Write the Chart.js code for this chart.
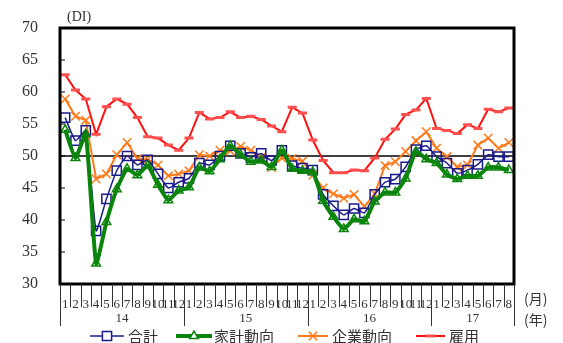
<!DOCTYPE html>
<html>
<head>
<meta charset="utf-8">
<script src="https://cdn.jsdelivr.net/npm/chart.js@4.4.0/dist/chart.umd.min.js"></script>
<style>
body { margin: 0; background: #fff; }
</style>
</head>
<body>
<canvas id="chartjs-0" width="563" height="343"></canvas>
<script>
// month tick labels (14/1 .. 17/8)
const months = ["1","2","3","4","5","6","7","8","9","10","11","12",
                "1","2","3","4","5","6","7","8","9","10","11","12",
                "1","2","3","4","5","6","7","8","9","10","11","12",
                "1","2","3","4","5","6","7","8"];
const years = ["14", "15", "16", "17"];
const yearLengths = [12, 12, 12, 8];

// DI values
const total = [56.0, 52.4, 54.0, 38.3, 43.3, 47.7, 50.0, 48.6, 49.4, 47.2, 45.0, 45.9,
               46.5, 48.9, 48.6, 50.0, 51.6, 50.4, 49.8, 50.4, 49.3, 50.9, 48.5, 48.1,
               47.8, 44.0, 42.2, 40.8, 41.8, 41.1, 44.0, 45.9, 46.4, 48.3, 51.0, 51.6,
               49.9, 48.9, 47.3, 47.8, 48.7, 50.2, 49.9, 49.9];
const household = [54.1, 49.7, 53.4, 33.2, 39.7, 44.8, 48.0, 47.0, 48.5, 45.5, 43.1, 44.6,
                   45.1, 48.2, 47.6, 49.5, 51.6, 50.2, 49.1, 49.3, 48.3, 50.9, 48.0, 47.7,
                   47.5, 43.0, 40.5, 38.6, 40.1, 39.8, 42.9, 44.3, 44.3, 46.5, 50.7, 49.5,
                   48.9, 47.1, 46.4, 46.9, 46.9, 48.2, 48.2, 47.8];
const corporate = [58.9, 56.2, 55.6, 46.4, 47.2, 50.2, 52.1, 49.6, 49.5, 48.6, 46.9, 47.2,
                   47.7, 50.2, 50.0, 50.9, 50.8, 51.5, 50.9, 49.8, 48.2, 49.7, 49.6, 49.2,
                   47.0, 45.0, 44.1, 43.4, 44.0, 42.1, 44.1, 48.5, 49.1, 50.7, 52.4, 53.8,
                   51.2, 49.9, 48.3, 48.6, 51.7, 52.8, 51.2, 52.1];
const employment = [62.7, 60.3, 58.9, 53.4, 57.7, 58.9, 58.1, 56.0, 53.0, 52.8, 51.7, 50.9,
                    52.8, 56.8, 55.8, 56.0, 56.9, 56.0, 56.2, 55.7, 54.7, 53.8, 57.6, 56.7,
                    52.5, 49.3, 47.4, 47.4, 47.8, 47.7, 49.7, 52.6, 54.2, 56.5, 57.2, 59.0,
                    54.3, 54.0, 53.5, 54.9, 54.3, 57.3, 56.9, 57.5];

const serif = "'Liberation Serif', 'DejaVu Serif', serif";
const jp = "'Noto Sans CJK JP', sans-serif";

// legend line positions
const legendPos = [[90, 124, 128], [176, 212, 214], [298, 328, 332], [416, 445, 449]];

const framePlugin = {
    id: "frame",
    beforeDatasetsDraw(chart) {
        let ctx = chart.ctx;
        let a = chart.chartArea;
        let y50 = chart.scales.y.getPixelForValue(50);
        ctx.save();
        ctx.strokeStyle = "#000";
        ctx.lineWidth = 1.5;
        ctx.beginPath();
        ctx.moveTo(a.left, y50);
        ctx.lineTo(a.right, y50);
        ctx.stroke();
        ctx.restore();
    },
    afterDraw(chart) {
        let ctx = chart.ctx;
        let a = chart.chartArea;
        let xs = chart.scales.x;
        let ys = chart.scales.y;
        ctx.save();

        // frame
        ctx.strokeStyle = "#000";
        ctx.lineWidth = 3;
        ctx.strokeRect(a.left, a.top, a.right - a.left, a.bottom - a.top);

        // small inner ticks on y axis
        ctx.lineWidth = 1;
        ys.ticks.forEach(function (t) {
            let y = ys.getPixelForValue(t.value);
            ctx.beginPath();
            ctx.moveTo(a.left, y);
            ctx.lineTo(a.left + 5, y);
            ctx.stroke();
        });

        // month separators and year separators
        let half = (xs.getPixelForValue(1) - xs.getPixelForValue(0)) / 2;
        ctx.strokeStyle = "#333";
        ctx.lineWidth = 1;
        let idx = 0;
        let yearStarts = [0];
        yearLengths.forEach(function (n) { idx += n; yearStarts.push(idx); });
        for (let i = 0; i <= months.length; i++) {
            let x = Math.round(xs.getPixelForValue(i) - half) + 0.5;
            let long = yearStarts.indexOf(i) >= 0;
            ctx.beginPath();
            ctx.moveTo(x, a.bottom);
            ctx.lineTo(x, long ? 326 : 307);
            ctx.stroke();
        }

        // year labels
        ctx.fillStyle = "#333";
        ctx.font = "13px " + serif;
        ctx.textAlign = "center";
        ctx.textBaseline = "middle";
        for (let k = 0; k < years.length; k++) {
            let x1 = xs.getPixelForValue(yearStarts[k]) - half;
            let x2 = xs.getPixelForValue(yearStarts[k + 1] - 1) + half;
            ctx.fillText(years[k], (x1 + x2) / 2, 319);
        }

        // unit labels
        ctx.font = "14px " + jp;
        ctx.textAlign = "left";
        ctx.fillText("(月)", 524, 299);
        ctx.fillText("(年)", 524, 320);
        ctx.font = "14px " + serif;
        ctx.fillText("(DI)", 67, 17);

        // legend
        chart.data.datasets.forEach(function (ds, i) {
            let p = legendPos[i];
            let y = 336;
            ctx.strokeStyle = ds.borderColor;
            ctx.lineWidth = ds.borderWidth;
            ctx.beginPath();
            ctx.moveTo(p[0], y);
            ctx.lineTo(p[1], y);
            ctx.stroke();
            ctx.strokeStyle = ds.pointBorderColor;
            ctx.lineWidth = ds.pointBorderWidth;
            ctx.fillStyle = "#fff";
            Chart.helpers.drawPoint(ctx, {
                pointStyle: ds.pointStyle,
                radius: ds.pointRadius,
                rotation: 0,
                borderWidth: ds.pointBorderWidth
            }, (p[0] + p[1]) / 2, y);
            ctx.fillStyle = "#333";
            ctx.font = "15px " + jp;
            ctx.textAlign = "left";
            ctx.textBaseline = "middle";
            ctx.fillText(ds.label, p[2], y);
        });
        ctx.restore();
    }
};

let ctx0 = document.getElementById("chartjs-0");
let myChart0 = new Chart(ctx0, {
    type: "line",
    data: {
        labels: months,
        datasets: [
            {
                label: "合計",
                data: total,
                borderColor: "#1a1a8a",
                borderWidth: 1.5,
                pointStyle: "rect",
                pointRadius: 6.5,
                pointBorderColor: "#1a1a8a",
                pointBorderWidth: 1.5,
                pointBackgroundColor: "rgba(255,255,255,0)",
                tension: 0.15,
                order: 2
            },
            {
                label: "家計動向",
                data: household,
                borderColor: "#0a840a",
                borderWidth: 4,
                pointStyle: "triangle",
                pointRadius: 5,
                pointBorderColor: "#0a840a",
                pointBorderWidth: 1.5,
                pointBackgroundColor: "rgba(255,255,255,0)",
                tension: 0.15,
                order: 1
            },
            {
                label: "企業動向",
                data: corporate,
                borderColor: "#ff7a1a",
                borderWidth: 2,
                pointStyle: "crossRot",
                pointRadius: 6,
                pointBorderColor: "#ff7a1a",
                pointBorderWidth: 1.5,
                tension: 0,
                order: 3
            },
            {
                label: "雇用",
                data: employment,
                borderColor: "#ff1010",
                borderWidth: 2,
                pointStyle: "line",
                pointRadius: 4.5,
                pointBorderColor: "#ff5050",
                pointBorderWidth: 3,
                tension: 0,
                order: 4
            }
        ]
    },
    options: {
        responsive: false,
        animation: false,
        layout: { padding: { left: 0, top: 28, right: 49, bottom: 0 } },
        plugins: {
            legend: { display: false },
            tooltip: { enabled: false }
        },
        scales: {
            x: {
                offset: true,
                grid: { display: false },
                border: { display: false },
                ticks: {
                    autoSkip: false,
                    maxRotation: 0,
                    padding: 5,
                    color: "#333",
                    font: { family: serif, size: 13 }
                },
                afterFit: function (scale) { scale.height = 59; }
            },
            y: {
                min: 30,
                max: 70,
                grid: { display: false },
                border: { display: false },
                ticks: {
                    stepSize: 5,
                    padding: 14,
                    color: "#333",
                    font: { family: serif, size: 16 }
                },
                afterFit: function (scale) { scale.width = 60; }
            }
        }
    },
    plugins: [framePlugin]
});
</script>
</body>
</html>
